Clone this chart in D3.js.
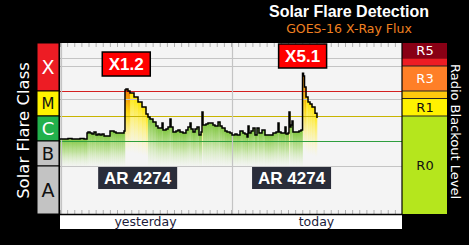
<!DOCTYPE html>
<html>
<head>
<meta charset="utf-8">
<script src="https://cdn.jsdelivr.net/npm/d3@7"></script>
<style>
  html, body { margin: 0; padding: 0; background: #000; }
  svg { display: block; }
</style>
</head>
<body>
<script>
// hours since start of yesterday, and GOES X-ray flux (W/m2)
const hours = [0, 0.56, 1.12, 1.68, 2.25, 2.81, 3.37, 3.65, 3.79, 3.93, 4.21, 4.49, 4.77, 5.05, 5.33, 5.61, 5.89, 6.18, 6.46, 6.74,
  7.02, 7.30, 7.58, 7.86, 8.14, 8.42, 8.70, 8.98, 9.12, 9.26, 9.40, 9.54, 9.82, 10.39, 10.95, 11.51, 12.07, 12.35, 12.63, 13.05,
  13.47, 13.75, 14.04, 14.32, 14.46, 14.88, 15.16, 15.44, 15.58, 15.86, 16.28, 16.56, 16.84, 17.26, 17.68, 17.96, 18.25, 18.39, 18.67, 18.95,
  19.23, 19.51, 19.79, 19.93, 20.07, 20.49, 20.77, 21.05, 21.47, 21.75, 22.18, 22.46, 22.74, 23.16, 23.44, 23.86, 24.14, 24.56, 24.84, 25.26,
  25.68, 25.96, 26.25, 26.39, 26.53, 26.81, 27.09, 27.37, 27.65, 27.93, 28.35, 28.77, 29.19, 29.47, 29.89, 30.32, 30.60, 30.74, 31.02, 31.30,
  31.58, 31.72, 32.00, 32.14, 32.28, 32.42, 32.56, 32.70, 33.12, 33.54, 33.82, 33.96, 34.04, 34.18, 34.32, 34.53, 34.81, 35.09, 35.37, 35.79, 36.07];
const flux = [1.2e-6, 1.2e-6, 1.26e-6, 1.2e-6, 1.2e-6, 1.26e-6, 1.2e-6, 1.2e-6, 2.1e-6, 2.3e-6, 2.1e-6, 1.9e-6, 2.3e-6, 1.75e-6, 1.9e-6, 1.75e-6, 1.9e-6, 1.6e-6, 1.6e-6, 1.6e-6,
  2.5e-6, 2.5e-6, 2.3e-6, 2.1e-6, 2.1e-6, 2.1e-6, 2.1e-6, 2.5e-6, 1.1e-4, 1.2e-4, 1.2e-4, 1.0e-4, 8.3e-5, 5.8e-5, 3.6e-5, 2.3e-5, 1.2e-5, 9.1e-6, 7.6e-6, 5.8e-6,
  4.0e-6, 3.3e-6, 3.3e-6, 5.2e-6, 2.75e-6, 3.0e-6, 3.6e-6, 7.6e-6, 3.6e-6, 2.3e-6, 2.5e-6, 2.75e-6, 2.3e-6, 2.1e-6, 2.75e-6, 3.6e-6, 5.2e-6, 3.0e-6, 2.3e-6, 3.0e-6,
  3.6e-6, 1.75e-6, 2.3e-6, 1.45e-5, 4.4e-6, 4.8e-6, 5.2e-6, 5.2e-6, 4.4e-6, 4.0e-6, 5.8e-6, 4.0e-6, 3.3e-6, 2.5e-6, 2.3e-6, 2.1e-6, 1.75e-6, 1.9e-6, 1.75e-6, 2.5e-6,
  2.1e-6, 1.9e-6, 1.45e-6, 4.0e-6, 2.1e-6, 2.5e-6, 3.3e-6, 1.75e-6, 3.3e-6, 2.1e-6, 2.75e-6, 1.75e-6, 1.75e-6, 1.75e-6, 2.1e-6, 2.3e-6, 5.2e-6, 2.3e-6, 2.1e-6, 2.1e-6,
  3.6e-6, 1.9e-6, 2.1e-6, 1.45e-5, 3.6e-6, 4.4e-6, 6.3e-6, 2.3e-6, 2.3e-6, 2.5e-6, 2.75e-6, 2.75e-6, 5.1e-4, 4.0e-4, 1.45e-4, 5.8e-5, 3.6e-5, 3.0e-5, 2.3e-5, 1.3e-5, 8.3e-6];

const classNames = ["X", "M", "C", "B", "A"];
const classLow = [1e-4, 1e-5, 1e-6, 1e-7, 0];
const classColors = ["#ed1c24", "#fff200", "#22b14c", "#c3c3c3", "#c3c3c3"];
const classText = ["#fff", "#111", "#fff", "#111", "#111"];
const classSize = [19, 15, 18, 18, 19];

const rNames = ["R5", "R4", "R3", "R2", "R1", "R0"];
const rLow = [2e-3, 1e-3, 1e-4, 5e-5, 1e-5, 0];
const rColors = ["#880015", "#ed1c24", "#ff7f27", "#ffc90e", "#fff200", "#b5e61d"];
const rShown = [true, false, true, false, true, true];
const rText = ["#fff", "#fff", "#fff", "#111", "#111", "#111"];

const gridVals = [2e-3, 1e-3, 1e-4, 5e-5, 1e-5, 1e-6, 1e-7];
const gridColors = ["#c4c4c4", "#c4c4c4", "#d42020", "#c4c4c4", "#c8b400", "#2e9e3e", "#c4c4c4"];

const flareLabels = ["X1.2", "X5.1"];
const flareHours = [9.3, 34.05];
const flarePeaks = [1.2e-4, 5.1e-4];
const regionLabels = ["AR 4274", "AR 4274"];
const regionHours = [10.9, 32.5];

const dayLabels = ["yesterday", "today"];
const dayHours = [12, 36];

const W = 469, H = 245;
const L = 60, R = 402, T = 43, B = 214;

const x = d3.scaleLinear().domain([0, 48]).range([L, R]);
const y = d3.scaleLog().domain([Math.pow(10, -8.92), Math.pow(10, -2.08)]).range([B, T]);
const yTop = y.domain()[1], yBot = y.domain()[0];

const svg = d3.select("body").append("svg").attr("width", W).attr("height", H);
svg.append("rect").attr("width", W).attr("height", H).attr("fill", "#000");

// titles
svg.append("text").attr("x", 349).attr("y", 17).attr("text-anchor", "middle")
  .attr("font-family", "Liberation Sans, Arial, sans-serif").attr("font-weight", "bold")
  .attr("font-size", 16).attr("fill", "#fff").text("Solar Flare Detection");
svg.append("text").attr("x", 349).attr("y", 33).attr("text-anchor", "middle")
  .attr("font-family", "DejaVu Sans, sans-serif").attr("font-size", 12.5)
  .attr("fill", "#f08020").text("GOES-16 X-Ray Flux");

// plot background
svg.append("rect").attr("x", L).attr("y", T).attr("width", R - L).attr("height", B - T).attr("fill", "#f4f4f4");

// gradients for the fill under the flux line
const defs = svg.append("defs");
const grads = {
  C: [["0", "#80c640", 1], ["0.45", "#a6d872", 0.65], ["1", "#e0f2cc", 0]],
  M: [["0", "#ffe600", 1], ["0.4", "#fff060", 0.6], ["0.8", "#fff8a0", 0]],
  X: [["0", "#f07800", 1], ["0.3", "#ffd800", 0.9], ["0.8", "#fff8a0", 0]]
};
Object.entries(grads).forEach(([k, stops]) => {
  const g = defs.append("linearGradient").attr("id", "g" + k).attr("x1", 0).attr("y1", 0).attr("x2", 0).attr("y2", 1);
  stops.forEach(s => g.append("stop").attr("offset", s[0]).attr("stop-color", s[1]).attr("stop-opacity", s[2]));
});
const cls = f => f >= 1e-4 ? "X" : f >= 1e-5 ? "M" : "C";

const pts = hours.map((h, i) => ({h, f: flux[i]}));

svg.append("g").selectAll("rect")
  .data(pts.slice(0, -1))
  .join("rect")
  .attr("x", (d, i) => x(d.h))
  .attr("width", (d, i) => Math.max(0.5, x(pts[i + 1].h) - x(d.h)) + 0.3)
  .attr("y", d => y(d.f))
  .attr("height", d => y(1e-7) + 2 - y(d.f))
  .attr("fill", d => "url(#g" + cls(d.f) + ")");

// grid lines
svg.append("g").selectAll("line")
  .data(gridVals)
  .join("line")
  .attr("x1", L).attr("x2", R)
  .attr("y1", d => Math.round(y(d)) + 0.5).attr("y2", d => Math.round(y(d)) + 0.5)
  .attr("stroke", (d, i) => gridColors[i]).attr("stroke-width", 1.2);

// vertical grid
svg.append("g").selectAll("line")
  .data([0, 24])
  .join("line")
  .attr("x1", d => x(d) + 1.5).attr("x2", d => x(d) + 1.5)
  .attr("y1", T).attr("y2", B)
  .attr("stroke", "#c4c4c4").attr("stroke-width", 1.2);

// hour ticks
const tickVals = d3.range(0, 49);
const topAxis = svg.append("g").attr("transform", `translate(0,${T})`)
  .call(d3.axisBottom(x).tickValues(tickVals).tickSize(4).tickFormat(""));
const botAxis = svg.append("g").attr("transform", `translate(0,${B})`)
  .call(d3.axisTop(x).tickValues(tickVals).tickSize(4).tickFormat(""));
[topAxis, botAxis].forEach(a => {
  a.select(".domain").remove();
  a.selectAll("line").attr("stroke", "#b0b0b0");
});

// flux line
const line = d3.line().x(d => x(d.h)).y(d => y(d.f)).curve(d3.curveStepAfter);
svg.append("path").datum(pts).attr("d", line)
  .attr("fill", "none").attr("stroke", "#000").attr("stroke-width", 1.5);

// class column
const classG = svg.append("g");
classNames.forEach((c, i) => {
  const hi = i === 0 ? yTop : classLow[i - 1];
  const lo = i === 4 ? yBot : classLow[i];
  const y0 = y(hi), y1 = y(lo);
  classG.append("rect").attr("x", 37).attr("y", y0).attr("width", 22).attr("height", y1 - y0)
    .attr("fill", classColors[i]).attr("stroke", "#000").attr("stroke-width", 1);
  classG.append("text").attr("x", 48).attr("y", (y0 + y1) / 2).attr("dy", "0.36em")
    .attr("text-anchor", "middle").attr("font-family", "DejaVu Sans, sans-serif")
    .attr("font-size", classSize[i]).attr("fill", classText[i]).text(c);
});

// radio blackout column
const rG = svg.append("g");
rNames.forEach((r, i) => {
  const hi = i === 0 ? yTop : rLow[i - 1];
  const lo = i === 5 ? yBot : rLow[i];
  const y0 = y(hi), y1 = y(lo);
  rG.append("rect").attr("x", 402).attr("y", y0).attr("width", 45).attr("height", y1 - y0)
    .attr("fill", rColors[i]);
  if (i > 1) rG.append("line").attr("x1", 402).attr("x2", 447).attr("y1", y0).attr("y2", y0)
    .attr("stroke", "#222").attr("stroke-width", 1);
  if (rShown[i]) rG.append("text").attr("x", 425).attr("y", (y0 + y1) / 2).attr("dy", "0.36em")
    .attr("text-anchor", "middle").attr("font-family", "DejaVu Sans, sans-serif")
    .attr("font-size", 13).attr("fill", rText[i]).text(r);
});

// plot borders
svg.append("line").attr("x1", 59.5).attr("x2", 59.5).attr("y1", T).attr("y2", B).attr("stroke", "#000").attr("stroke-width", 1.2);
svg.append("line").attr("x1", 402).attr("x2", 402).attr("y1", T).attr("y2", B).attr("stroke", "#000").attr("stroke-width", 1.2);

// flare labels
flareLabels.forEach((t, i) => {
  const cx = x(flareHours[i]);
  const top = Math.max(T + 1, y(flarePeaks[i]) - 37);
  svg.append("rect").attr("x", cx - 24).attr("y", top).attr("width", 48).attr("height", 24)
    .attr("fill", "#ff0000").attr("stroke", "#000").attr("stroke-width", 1.5);
  svg.append("text").attr("x", cx).attr("y", top + 12).attr("dy", "0.36em").attr("text-anchor", "middle")
    .attr("font-family", "Liberation Sans, Arial, sans-serif").attr("font-weight", "bold")
    .attr("font-size", 17).attr("fill", "#fff").text(t);
});

// active region labels
regionLabels.forEach((t, i) => {
  const cx = x(regionHours[i]);
  svg.append("rect").attr("x", cx - 39.5).attr("y", 167).attr("width", 79).attr("height", 22)
    .attr("fill", "#2a2d3a");
  svg.append("text").attr("x", cx).attr("y", 178).attr("dy", "0.36em").attr("text-anchor", "middle")
    .attr("font-family", "Liberation Sans, Arial, sans-serif").attr("font-weight", "bold")
    .attr("font-size", 17).attr("fill", "#fff").text(t);
});

// bottom day axis
svg.append("rect").attr("x", L).attr("y", B).attr("width", R - L).attr("height", 15).attr("fill", "#fff");
svg.append("line").attr("x1", L).attr("x2", R).attr("y1", B + 0.5).attr("y2", B + 0.5).attr("stroke", "#000").attr("stroke-width", 1.5);
svg.append("g").selectAll("text")
  .data(dayLabels)
  .join("text")
  .attr("x", (d, i) => x(dayHours[i])).attr("y", 226).attr("text-anchor", "middle")
  .attr("font-family", "DejaVu Sans, sans-serif").attr("font-size", 12.5)
  .attr("fill", "#1b1b3a").text(d => d);

// side titles
svg.append("text").attr("transform", "translate(29,130.5) rotate(-90)").attr("text-anchor", "middle")
  .attr("font-family", "DejaVu Sans, sans-serif").attr("font-size", 16.5).attr("fill", "#fff")
  .text("Solar Flare Class");
svg.append("text").attr("transform", "translate(451,131.5) rotate(90)").attr("text-anchor", "middle")
  .attr("font-family", "DejaVu Sans, sans-serif").attr("font-size", 13).attr("fill", "#fff")
  .text("Radio Blackout Level");
</script>
</body>
</html>
